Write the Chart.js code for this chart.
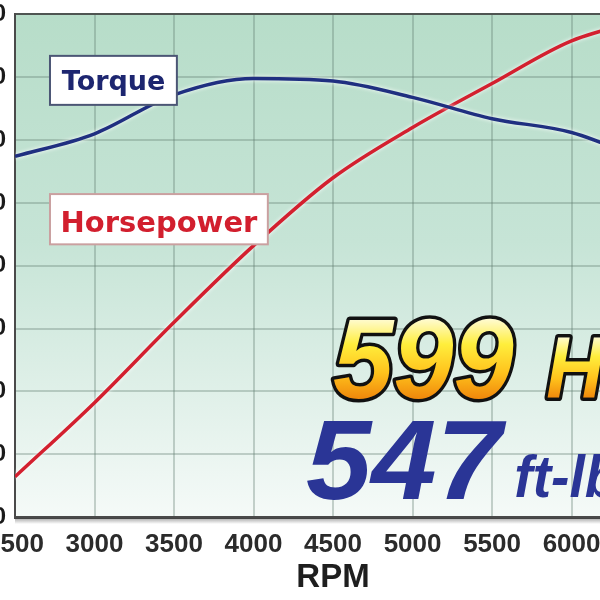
<!DOCTYPE html>
<html>
<head>
<meta charset="utf-8">
<script src="https://cdn.jsdelivr.net/npm/chart.js@4.4.1/dist/chart.umd.min.js"></script>
<style>
    html, body { margin: 0; padding: 0; background: #fff; width: 600px; height: 600px; overflow: hidden; }
    #wrap { position: absolute; left: -55px; top: -9px; width: 747px; height: 609px; }
</style>
</head>
<body>
<div id="wrap"><canvas id="dynoChart"></canvas></div>
<script>
const rpm = [2500, 3000, 3500, 4000, 4500, 5000, 5500, 6000, 6500];
const torque = [487, 505, 536, 549, 547, 534, 517, 506, 482];
const horsepower = [232, 291, 355, 416, 470, 510, 545, 579, 597];
const yTicks = [200, 250, 300, 350, 400, 450, 500, 550, 600];

const tickFont = '"Liberation Sans", Arial, sans-serif';

function toPoints(values) {
    return rpm.map((r, i) => ({ x: r, y: values[i] }));
}

// mint to white fill behind the grid
const plotBackground = {
    id: 'plotBackground',
    beforeDraw(chart) {
        const { ctx, chartArea: a } = chart;
        const g = ctx.createLinearGradient(0, a.top, 0, a.bottom);
        g.addColorStop(0, '#b7ddc9');
        g.addColorStop(0.45, '#c6e4d6');
        g.addColorStop(1, '#f5faf8');
        ctx.save();
        ctx.fillStyle = g;
        ctx.fillRect(a.left, a.top, a.right - a.left, a.bottom - a.top);
        ctx.restore();
    },
    afterDraw(chart) {
        const { ctx, chartArea: a } = chart;
        const g = ctx.createLinearGradient(0, a.bottom + 1, 0, a.bottom + 7);
        g.addColorStop(0, 'rgba(60,60,60,0.45)');
        g.addColorStop(1, 'rgba(60,60,60,0)');
        ctx.save();
        ctx.fillStyle = g;
        ctx.fillRect(a.left, a.bottom + 1, a.right - a.left, 6);
        ctx.restore();
    }
};

// soft light halo round the curves
const lineHalo = {
    id: 'lineHalo',
    beforeDatasetsDraw(chart) {
        chart.ctx.save();
        chart.ctx.shadowColor = 'rgba(255,255,255,0.95)';
        chart.ctx.shadowBlur = 4;
    },
    afterDatasetsDraw(chart) {
        chart.ctx.restore();
    }
};

function labelBox(ctx, x, y, text, size, color, border, left, top, right, bottom) {
    ctx.save();
    ctx.fillStyle = '#ffffff';
    ctx.fillRect(left, top, right - left, bottom - top);
    ctx.lineWidth = 2;
    ctx.strokeStyle = border;
    ctx.strokeRect(left, top, right - left, bottom - top);
    ctx.font = `bold ${size}px "DejaVu Sans", sans-serif`;
    ctx.fillStyle = color;
    ctx.textAlign = 'center';
    ctx.textBaseline = 'alphabetic';
    ctx.fillText(text, x, y);
    ctx.restore();
}

function bigText(ctx, text, x, y, size, squeeze, fill, stroke) {
    ctx.save();
    ctx.translate(x, y);
    ctx.scale(squeeze, 1);
    ctx.font = `italic bold ${size}px "Liberation Sans", Arial, sans-serif`;
    ctx.textBaseline = 'alphabetic';
    ctx.lineJoin = 'round';
    let style = fill;
    if (stroke) {
        const g = ctx.createLinearGradient(0, -size * 0.72, 0, 0);
        g.addColorStop(0, '#fffde6');
        g.addColorStop(0.35, '#ffee3c');
        g.addColorStop(0.7, '#ffc21c');
        g.addColorStop(1, '#f08a0c');
        style = g;
        ctx.lineWidth = 7;
        ctx.strokeStyle = stroke;
        ctx.strokeText(text, 0, 0);
    }
    ctx.fillStyle = style;
    ctx.fillText(text, 0, 0);
    ctx.restore();
}

const annotations = {
    id: 'annotations',
    afterDatasetsDraw(chart) {
        const { ctx } = chart;
        const x = chart.scales.x, y = chart.scales.y;
        const X = v => x.getPixelForValue(v);
        const Y = v => y.getPixelForValue(v);

        labelBox(ctx, X(3120), Y(540), 'Torque', 27, '#1d2670', '#4b5675',
            X(2720), Y(567), X(3518), Y(528));
        labelBox(ctx, X(3405), Y(427), 'Horsepower', 29, '#d21f2e', '#caa0a0',
            X(2720), Y(457), X(4090), Y(417));

        bigText(ctx, '599', X(4500), Y(295), 114, 0.95, null, '#111111');
        bigText(ctx, 'HP', X(5840), Y(295), 88, 0.9, null, '#111111');
        bigText(ctx, '547', X(4330), Y(214), 114, 1.03, '#2a3596');
        bigText(ctx, 'ft-lbs', X(5640), Y(216), 60, 0.92, '#2a3596');
    }
};

const ctx = document.getElementById('dynoChart').getContext('2d');
new Chart(ctx, {
    type: 'line',
    data: {
        datasets: [
            {
                label: 'Torque',
                data: toPoints(torque),
                borderColor: '#1f2f80',
                borderWidth: 3.5,
                pointRadius: 0,
                cubicInterpolationMode: 'monotone',
                fill: false,
            },
            {
                label: 'Horsepower',
                data: toPoints(horsepower),
                borderColor: '#d3202f',
                borderWidth: 3.5,
                pointRadius: 0,
                cubicInterpolationMode: 'monotone',
                fill: false,
            },
        ],
    },
    options: {
        responsive: true,
        maintainAspectRatio: false,
        animation: false,
        events: [],
        layout: { padding: { top: 13, right: 40, left: 0, bottom: 0 } },
        plugins: {
            legend: { display: false },
            tooltip: { enabled: false },
        },
        scales: {
            x: {
                type: 'linear',
                min: rpm[0],
                max: rpm[rpm.length - 1],
                afterBuildTicks: (scale) => { scale.ticks = rpm.map(v => ({ value: v })); },
                afterFit: (scale) => { scale.height = 83; },
                ticks: {
                    autoSkip: false,
                    maxRotation: 0,
                    padding: 12,
                    color: '#2b2b2b',
                    font: { family: tickFont, size: 26, weight: 'bold' },
                    callback: (v) => String(v),
                },
                grid: {
                    color: 'rgba(95,120,108,0.33)',
                    lineWidth: 2,
                    drawTicks: false,
                },
                border: { display: true, color: '#4a4a4a', width: 3 },
                title: {
                    display: true,
                    text: 'RPM',
                    color: '#1e1e1e',
                    font: { family: '"Liberation Sans", Arial, sans-serif', size: 33, weight: 'bold' },
                    padding: { top: 0, bottom: 2 },
                },
            },
            y: {
                min: yTicks[0],
                max: yTicks[yTicks.length - 1],
                afterBuildTicks: (scale) => { scale.ticks = yTicks.map(v => ({ value: v })); },
                afterFit: (scale) => { scale.width = 70; },
                ticks: {
                    padding: 9,
                    color: '#1a1a1a',
                    font: { family: tickFont, size: 24, weight: 'bold' },
                },
                grid: {
                    color: (c) => c.tick && c.tick.value === 600 ? '#4f5552' : 'rgba(95,120,108,0.33)',
                    lineWidth: 2,
                    drawTicks: false,
                },
                border: { display: true, color: '#4a4a4a', width: 2 },
            },
        },
    },
    plugins: [plotBackground, lineHalo, annotations],
});
</script>
</body>
</html>
